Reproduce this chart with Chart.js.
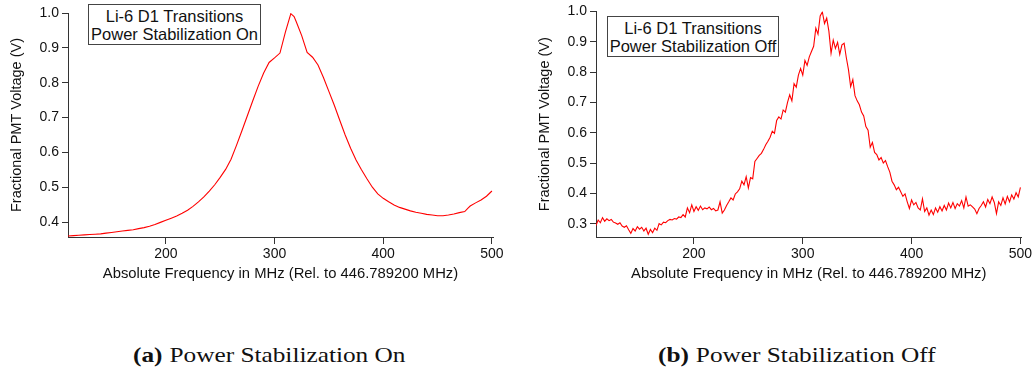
<!DOCTYPE html>
<html>
<head>
<meta charset="utf-8">
<script src="https://cdn.jsdelivr.net/npm/chart.js@4.4.1/dist/chart.umd.min.js"></script>
<style>
  body { margin: 0; background: #fff; }
  #page { position: relative; width: 1035px; height: 372px; overflow: hidden; background: #fff; }
  .plot { position: absolute; top: 0; width: 515px; height: 300px; }
  .note {
    position: absolute; box-sizing: border-box; border: 1px solid #444; background: #fff;
    font-family: "Liberation Sans", Arial, sans-serif; font-size: 16.5px; line-height: 18.3px;
    color: #111; text-align: center; padding-top: 2px; white-space: nowrap;
  }
  .cap {
    position: absolute; top: 342px; font-family: "Liberation Serif", "DejaVu Serif", serif;
    font-size: 22px; color: #111; white-space: nowrap;
    transform: scaleX(1.15); transform-origin: left center;
  }
  .cap b { margin-right: 6px; }
</style>
</head>
<body>
<div id="page">
  <div class="plot" style="left:0"><canvas id="chartOn"></canvas></div>
  <div class="plot" style="left:520px"><canvas id="chartOff"></canvas></div>
  <div class="note" style="left:88px; top:4px; width:173px; height:41px;">Li-6 D1 Transitions<br>Power Stabilization On</div>
  <div class="note" style="left:607px; top:16px; width:172px; height:41px;">Li-6 D1 Transitions<br>Power Stabilization Off</div>
  <div class="cap" style="left:133px"><b>(a)</b>Power Stabilization On</div>
  <div class="cap" style="left:658px"><b>(b)</b>Power Stabilization Off</div>
</div>
<script>
// x ticks shared by both panels
const xTickVals = [200, 300, 400, 500];
const yTicksOn = [0.4, 0.5, 0.6, 0.7, 0.8, 0.9, 1.0];
const yTicksOff = [0.3, 0.4, 0.5, 0.6, 0.7, 0.8, 0.9, 1.0];

// (a) power stabilization on - smooth scan
const freqOn = [110,115,120,125,130,135,140,145,150,155,160,165,170,175,180,185,190,195,200,205,
  210,215,220,225,230,235,240,245,250,255,260,265,270,275,280,285,290,295,300,305,310,315,318,
  320,325,330,335,340,345,350,355,360,365,370,375,380,385,390,395,400,405,410,415,420,425,430,435,
  440,445,450,455,460,465,470,475,478,480,485,490,495,500];
const voltOn = [0.360,0.361,0.362,0.363,0.364,0.365,0.366,0.368,0.370,0.372,
  0.374,0.376,0.378,0.381,0.384,0.388,0.393,0.399,0.405,0.411,
  0.417,0.425,0.434,0.445,0.458,0.472,0.489,0.507,0.528,0.551,
  0.580,0.620,0.662,0.705,0.748,0.790,0.828,0.858,0.871,0.885,
  0.945,0.998,0.990,
  0.975,0.935,0.887,0.873,0.851,0.815,0.775,0.735,0.692,0.650,
  0.612,0.578,0.550,0.524,0.500,0.481,0.468,0.458,0.449,0.442,
  0.437,0.432,0.428,0.425,0.422,0.420,0.418,0.418,0.420,0.423,
  0.427,0.430,0.440,0.446,0.455,0.463,0.474,0.489];

// (b) power stabilization off - noisy scan
const freqOff = [110,112,114,116,118,120,122,124,126,128,130,132,134,136,138,140,142,144,146,148,
  150,152,154,156,158,160,162,164,166,168,170,172,174,176,178,180,182,184,186,188,
  190,192,194,196,198,200,202,204,206,208,210,212,214,216,218,220,222,224,226,228,
  230,232,234,236,238,240,242,244,246,248,250,252,254,256,258,260,262,264,266,268,
  270,272,274,276,278,280,282,284,286,288,290,292,294,296,298,300,302,304,306,308,
  310,312,314,316,318,320,322,324,326,328,330,332,334,336,338,340,342,344,346,348,
  350,352,354,356,358,360,362,364,366,368,370,372,374,376,378,380,382,384,386,388,
  390,392,394,396,398,400,402,404,406,408,410,412,414,416,418,420,422,424,426,428,
  430,432,434,436,438,440,442,444,446,448,450,452,454,456,458,460,462,464,466,468,
  470,472,474,476,478,480,482,484,486,488,490,492,494,496,498,500];
const voltOff = [0.294,0.312,0.303,0.320,0.308,0.316,0.310,0.314,0.305,0.302,
  0.298,0.303,0.292,0.288,0.293,0.280,0.268,0.284,0.276,0.290,
  0.282,0.288,0.276,0.285,0.265,0.281,0.270,0.285,0.278,0.300,
  0.296,0.305,0.303,0.310,0.314,0.312,0.317,0.315,0.322,0.320,
  0.330,0.322,0.352,0.336,0.362,0.340,0.356,0.344,0.358,0.346,
  0.352,0.349,0.355,0.346,0.350,0.342,0.345,0.372,0.335,0.345,
  0.360,0.372,0.385,0.378,0.398,0.405,0.415,0.440,0.428,0.455,
  0.418,0.452,0.448,0.505,0.515,0.525,0.532,0.545,0.560,0.572,
  0.585,0.605,0.598,0.640,0.652,0.645,0.675,0.668,0.700,0.725,
  0.705,0.762,0.750,0.790,0.812,0.790,0.838,0.822,0.850,0.868,
  0.885,0.945,0.925,0.985,0.998,0.960,0.978,0.935,0.862,0.905,
  0.878,0.898,0.858,0.890,0.895,0.848,0.808,0.752,0.775,0.722,
  0.705,0.692,0.668,0.655,0.620,0.608,0.552,0.568,0.535,0.528,
  0.510,0.518,0.500,0.508,0.488,0.470,0.440,0.428,0.412,0.420,
  0.405,0.390,0.398,0.372,0.350,0.378,0.362,0.370,0.352,0.345,
  0.382,0.340,0.352,0.328,0.345,0.330,0.352,0.338,0.356,0.342,
  0.360,0.345,0.368,0.352,0.370,0.350,0.366,0.358,0.376,0.352,
  0.388,0.358,0.362,0.355,0.348,0.333,0.350,0.360,0.372,0.355,
  0.380,0.366,0.388,0.370,0.333,0.372,0.360,0.385,0.365,0.390,
  0.372,0.395,0.381,0.402,0.388,0.420];

const axisColor = "#333";
const sansFont = "'Liberation Sans', Arial, sans-serif";

function makeChart(id, freqs, volts, yMin, yTicks, opts) {
  const ctx = document.getElementById(id).getContext("2d");
  const points = freqs.map((f, i) => ({ x: f, y: volts[i] }));
  return new Chart(ctx, {
    type: "line",
    data: {
      datasets: [{
        data: points,
        borderColor: "#ff0000",
        borderWidth: 1.1,
        pointRadius: 0,
        tension: 0,
        fill: false
      }]
    },
    options: {
      responsive: false,
      maintainAspectRatio: false,
      animation: false,
      events: [],
      layout: { padding: { left: 0, right: opts.padRight, top: opts.padTop, bottom: 13 } },
      plugins: { legend: { display: false }, tooltip: { enabled: false } },
      scales: {
        x: {
          type: "linear",
          min: 110,
          max: 501,
          afterBuildTicks: s => { s.ticks = xTickVals.map(v => ({ value: v })); },
          afterFit: s => { s.height = 50; },
          grid: { display: true, drawOnChartArea: false, tickLength: 7, color: axisColor },
          border: { display: true, color: axisColor, width: 1 },
          ticks: { color: "#111", font: { family: sansFont, size: 14 }, padding: 2, maxRotation: 0 },
          title: {
            display: true,
            text: "Absolute Frequency in MHz (Rel. to 446.789200 MHz)",
            color: "#111",
            font: { family: sansFont, size: 14.8 },
            padding: { top: 0, bottom: 4.2 }
          }
        },
        y: {
          type: "linear",
          min: yMin,
          max: 1.0,
          afterBuildTicks: s => { s.ticks = yTicks.map(v => ({ value: v })); },
          afterFit: s => { s.width = opts.axisWidth; },
          grid: { display: true, drawOnChartArea: false, tickLength: 6, color: axisColor },
          border: { display: true, color: axisColor, width: 1 },
          ticks: {
            color: "#111", font: { family: sansFont, size: 14 }, padding: 3,
            callback: v => v.toFixed(1)
          },
          title: {
            display: true,
            text: "Fractional PMT Voltage (V)",
            color: "#111",
            font: { family: sansFont, size: 14.5 },
            padding: { top: opts.titlePad, bottom: 0 }
          }
        }
      }
    }
  });
}

document.getElementById("chartOn").width = 515;
document.getElementById("chartOn").height = 300;
document.getElementById("chartOff").width = 515;
document.getElementById("chartOff").height = 300;

makeChart("chartOn", freqOn, voltOn, 0.357, yTicksOn,
  { padRight: 22, padTop: 13, axisWidth: 68, titlePad: 8.3 });
makeChart("chartOff", freqOff, voltOff, 0.256, yTicksOff,
  { padRight: 13.5, padTop: 11, axisWidth: 76, titlePad: 16.3 });
</script>
</body>
</html>
